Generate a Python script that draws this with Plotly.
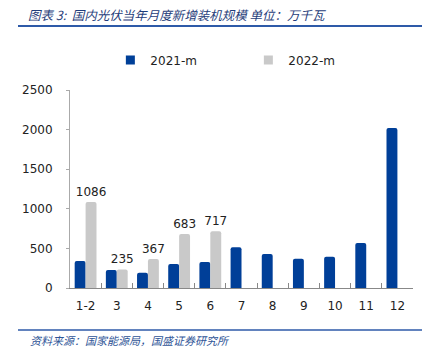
import plotly.graph_objects as go

categories = ["1-2", "3", "4", "5", "6", "7", "8", "9", "10", "11", "12"]
values_2021 = [341, 227, 193, 303, 328, 514, 429, 370, 396, 568, 2020]
values_2022 = [1086, 235, 367, 683, 717, None, None, None, None, None, None]
y_ticks = [0, 500, 1000, 1500, 2000, 2500]

BLUE = "#003F98"
GREY = "#C9C9C9"
LINE_BLUE = "#2E5AA8"
num_font = "DejaVu Sans"
cjk_font = "Noto Sans CJK SC"

W, H = 429, 358
ML, MR, MT, MB = 70, 16, 90, 70
plot_h = H - MT - MB
plot_w = W - ML - MR


def py(ypix):
    return (H - MB - ypix) / plot_h


def px(xpix):
    return (xpix - ML) / plot_w


fig = go.Figure()
fig.add_trace(go.Bar(name="2021-m", x=categories, y=values_2021, showlegend=False,
                     marker=dict(color=BLUE, cornerradius=2, line=dict(width=0))))
fig.add_trace(go.Bar(name="2022-m", x=categories, y=values_2022, showlegend=False,
                     marker=dict(color=GREY, cornerradius=2, line=dict(width=0)),
                     text=[str(v) if v is not None else "" for v in values_2022],
                     textposition="outside", cliponaxis=False, constraintext="none",
                     textfont=dict(family=num_font, size=12, color="#222222")))
# legend entries with small square swatches
fig.add_trace(go.Scatter(name="2021-m", x=[categories[0]], y=[None], mode="markers",
                         marker=dict(symbol="square", size=9, color=BLUE)))
fig.add_trace(go.Scatter(name="2022-m", x=[categories[0]], y=[None], mode="markers",
                         marker=dict(symbol="square", size=9, color=GREY)))

fig.update_layout(
    width=W, height=H,
    margin=dict(l=ML, r=MR, t=MT, b=MB, autoexpand=False),
    paper_bgcolor="white", plot_bgcolor="white",
    barmode="group", bargap=0.3, bargroupgap=0,
    showlegend=True,
    legend=dict(orientation="h", x=0.52, xanchor="center", y=py(60), yanchor="middle",
                font=dict(family=num_font, size=12, color="#222222"),
                entrywidth=93, itemwidth=30),
    xaxis=dict(range=[-0.5, len(categories) - 0.5], showline=True,
               linecolor="#888888", linewidth=1,
               ticks="inside", ticklen=5, tickcolor="#888888",
               tickson="boundaries", showgrid=False, ticklabelstandoff=7,
               tickfont=dict(family=num_font, size=12, color="#222222")),
    yaxis=dict(range=[0, 2500], tickvals=y_ticks, showline=True, linecolor="#AAAAAA",
               linewidth=1, ticks="outside", ticklen=3, tickcolor="#AAAAAA",
               showgrid=False, zeroline=False, ticklabelstandoff=11,
               tickfont=dict(family=num_font, size=12, color="#222222")),
)

fig.add_annotation(text="图表 3:  国内光伏当年月度新增装机规模 单位：万千瓦",
                   xref="paper", yref="paper", x=px(26), y=py(14), yanchor="middle",
                   xanchor="left", showarrow=False,
                   font=dict(family=cjk_font, size=12.5, color="#1F3D7A", style="italic"))
fig.add_shape(type="line", xref="paper", yref="paper", x0=px(18), x1=px(422),
              y0=py(26), y1=py(26), line=dict(color=LINE_BLUE, width=2))
fig.add_shape(type="line", xref="paper", yref="paper", x0=px(18), x1=px(422),
              y0=py(330), y1=py(330), line=dict(color=LINE_BLUE, width=1.5))
fig.add_annotation(text="资料来源：国家能源局，国盛证券研究所",
                   xref="paper", yref="paper", x=px(28), y=py(340), xanchor="left",
                   yanchor="middle", showarrow=False,
                   font=dict(family=cjk_font, size=11, color="#2F5597", style="italic"))

fig.write_html("out.html", config={"displayModeBar": False},
               post_script="document.body.style.margin='0';")
